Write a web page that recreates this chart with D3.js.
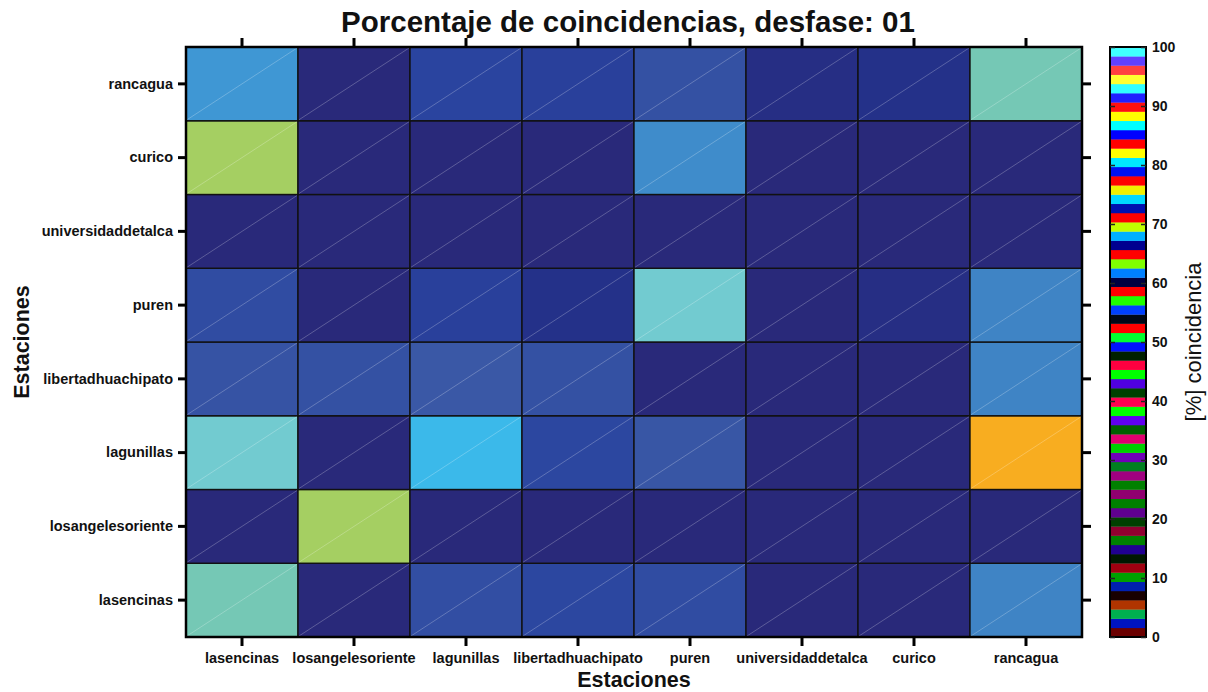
<!DOCTYPE html>
<html>
<head>
<meta charset="utf-8">
<script src="https://cdn.jsdelivr.net/npm/d3@7"></script>
<style>
  html, body { margin: 0; padding: 0; background: #fff; }
  svg { display: block; font-family: "Liberation Sans", Arial, sans-serif; }
</style>
</head>
<body>
<svg id="chart" width="1208" height="692"></svg>
<script>
// Stations, in axis order (x: left to right, y: bottom to top)
const stations = ["lasencinas", "losangelesoriente", "lagunillas", "libertadhuachipato",
                  "puren", "universidaddetalca", "curico", "rancagua"];

// Percentage of coincidences; row = station on the y axis, column = station on the x axis
const rowLasencinas         = [62,  1, 14, 11, 13,  1,  1, 35];
const rowLosangelesoriente  = [ 1, 72,  1,  1,  1,  1,  1,  1];
const rowLagunillas         = [56,  1, 50, 11, 17,  1,  1, 88];
const rowLibertadhuachipato = [16, 15, 18, 15,  1,  1,  1, 35];
const rowPuren              = [13,  1,  9,  5, 56,  1,  4, 35];
const rowUniversidaddetalca = [ 1,  1,  1,  1,  1,  1,  1,  1];
const rowCurico             = [72,  1,  1,  1, 38,  1,  1,  1];
const rowRancagua           = [42,  1, 10,  9, 15,  4,  5, 62];

const rows = [rowLasencinas, rowLosangelesoriente, rowLagunillas, rowLibertadhuachipato,
              rowPuren, rowUniversidaddetalca, rowCurico, rowRancagua];

const colorbarTicks = [0, 10, 20, 30, 40, 50, 60, 70, 80, 90, 100];

// 64-entry palette shown in the colour bar (bottom to top)
const barPalette = [
  "#6b0000", "#0014c0", "#00b050", "#b03400", "#180000", "#0020b0", "#00a000", "#a00010",
  "#001800", "#200090", "#008000", "#900030", "#004000", "#600090", "#008000", "#900070",
  "#008000", "#a00080", "#008020", "#7000b8", "#00d000", "#e00070", "#006000", "#6000f0",
  "#00ff00", "#ff0050", "#004000", "#5000e0", "#00ff00", "#ff0040", "#002000", "#0010ff",
  "#00ff30", "#ff0000", "#000818", "#0040ff", "#20ff00", "#ff0000", "#000040", "#0080ff",
  "#80ff00", "#ff0000", "#000090", "#00b0ff", "#c0ff00", "#ff0000", "#0010b0", "#00d8ff",
  "#f0f000", "#ff0000", "#0010f0", "#00e8ff", "#ffff00", "#ff0000", "#0000ff", "#00ffff",
  "#ffff00", "#ff1010", "#2020ff", "#30ffff", "#ffff30", "#ff4040", "#6040ff", "#40ffff"
];

// Cell colour ramp
const rampStops  = [0, 2, 5, 10, 18, 35, 42, 50, 56, 62, 72, 88, 100];
const rampColors = ["#29297a", "#29297a", "#243189", "#2a449f", "#3a58a6", "#3f84c5", "#3f97d4",
                    "#3bb9ea", "#72cbd0", "#75c8b5", "#a5cf62", "#f8ad20", "#f9f020"];

const svg = d3.select("#chart");
const plotLeft = 186, plotTop = 47, plotRight = 1082, plotBottom = 637;

const x = d3.scaleBand().domain(stations).range([plotLeft, plotRight]).padding(0);
const y = d3.scaleBand().domain(stations).range([plotBottom, plotTop]).padding(0);
const color = d3.scaleLinear().domain(rampStops).range(rampColors).clamp(true);

const cells = [];
rows.forEach((r, i) => r.forEach((v, j) => cells.push({ row: stations[i], col: stations[j], v })));

// Heatmap cells
const g = svg.append("g");
g.selectAll("rect.cell").data(cells).join("rect")
  .attr("class", "cell")
  .attr("x", d => x(d.col))
  .attr("y", d => y(d.row))
  .attr("width", x.bandwidth())
  .attr("height", y.bandwidth())
  .attr("fill", d => color(d.v))
  .attr("stroke", "#111")
  .attr("stroke-width", 1.4);

// Faint diagonal inside each cell
g.selectAll("line.diag").data(cells).join("line")
  .attr("class", "diag")
  .attr("x1", d => x(d.col) + 1)
  .attr("y1", d => y(d.row) + y.bandwidth() - 1)
  .attr("x2", d => x(d.col) + x.bandwidth() - 1)
  .attr("y2", d => y(d.row) + 1)
  .attr("stroke", "#ffffff")
  .attr("stroke-opacity", 0.3)
  .attr("stroke-width", 0.8);

// Frame
svg.append("rect")
  .attr("x", plotLeft).attr("y", plotTop)
  .attr("width", plotRight - plotLeft).attr("height", plotBottom - plotTop)
  .attr("fill", "none").attr("stroke", "#000").attr("stroke-width", 2.5);

function styleAxis(sel, showLabels) {
  sel.select(".domain").remove();
  sel.selectAll(".tick line").attr("stroke", "#000").attr("stroke-width", 3);
  if (showLabels) {
    sel.selectAll(".tick text")
      .attr("fill", "#111")
      .style("font-size", "14.5px")
      .style("font-weight", "bold");
  } else {
    sel.selectAll(".tick text").remove();
  }
}

svg.append("g").attr("transform", `translate(0,${plotBottom})`)
  .call(d3.axisBottom(x).tickSize(9).tickSizeOuter(0).tickPadding(7))
  .call(s => styleAxis(s, true));
svg.append("g").attr("transform", `translate(0,${plotTop})`)
  .call(d3.axisTop(x).tickSize(9).tickSizeOuter(0))
  .call(s => styleAxis(s, false));
svg.append("g").attr("transform", `translate(${plotLeft},0)`)
  .call(d3.axisLeft(y).tickSize(8).tickSizeOuter(0).tickPadding(5))
  .call(s => styleAxis(s, true));
svg.append("g").attr("transform", `translate(${plotRight},0)`)
  .call(d3.axisRight(y).tickSize(9).tickSizeOuter(0))
  .call(s => styleAxis(s, false));

// Titles
svg.append("text")
  .attr("x", 628).attr("y", 32)
  .attr("text-anchor", "middle")
  .style("font-size", "29.5px").style("font-weight", "bold").attr("fill", "#111")
  .text("Porcentaje de coincidencias, desfase: 01");

svg.append("text")
  .attr("x", (plotLeft + plotRight) / 2).attr("y", 687)
  .attr("text-anchor", "middle")
  .style("font-size", "21.5px").style("font-weight", "bold").attr("fill", "#111")
  .text("Estaciones");

svg.append("text")
  .attr("transform", `translate(29,${(plotTop + plotBottom) / 2}) rotate(-90)`)
  .attr("text-anchor", "middle")
  .style("font-size", "21.5px").style("font-weight", "bold").attr("fill", "#111")
  .text("Estaciones");

// Colour bar
const cbLeft = 1110, cbRight = 1146;
const cy = d3.scaleLinear().domain([0, 100]).range([plotBottom, plotTop]);
const step = 100 / barPalette.length;
const cb = svg.append("g");
cb.selectAll("rect").data(barPalette).join("rect")
  .attr("x", cbLeft)
  .attr("width", cbRight - cbLeft)
  .attr("y", (d, i) => cy((i + 1) * step))
  .attr("height", (d, i) => cy(i * step) - cy((i + 1) * step) + 0.3)
  .attr("fill", d => d);

cb.append("rect")
  .attr("x", cbLeft).attr("y", plotTop)
  .attr("width", cbRight - cbLeft).attr("height", plotBottom - plotTop)
  .attr("fill", "none").attr("stroke", "#000").attr("stroke-width", 2);

const cbAxisR = svg.append("g").attr("transform", `translate(${cbRight},0)`)
  .call(d3.axisRight(cy).tickValues(colorbarTicks).tickSizeInner(-5).tickSizeOuter(0).tickPadding(6));
cbAxisR.select(".domain").remove();
cbAxisR.selectAll(".tick line").attr("stroke", "#222").attr("stroke-width", 1.5);
cbAxisR.selectAll(".tick text").attr("fill", "#111")
  .style("font-size", "14px").style("font-weight", "bold");

const cbAxisL = svg.append("g").attr("transform", `translate(${cbLeft},0)`)
  .call(d3.axisLeft(cy).tickValues(colorbarTicks).tickSizeInner(-5).tickSizeOuter(0));
cbAxisL.select(".domain").remove();
cbAxisL.selectAll(".tick text").remove();
cbAxisL.selectAll(".tick line").attr("stroke", "#222").attr("stroke-width", 1.5);

svg.append("text")
  .attr("transform", `translate(1201,${(plotTop + plotBottom) / 2}) rotate(-90)`)
  .attr("text-anchor", "middle")
  .style("font-size", "22px").attr("fill", "#111")
  .text("[%] coincidencia");
</script>
</body>
</html>
